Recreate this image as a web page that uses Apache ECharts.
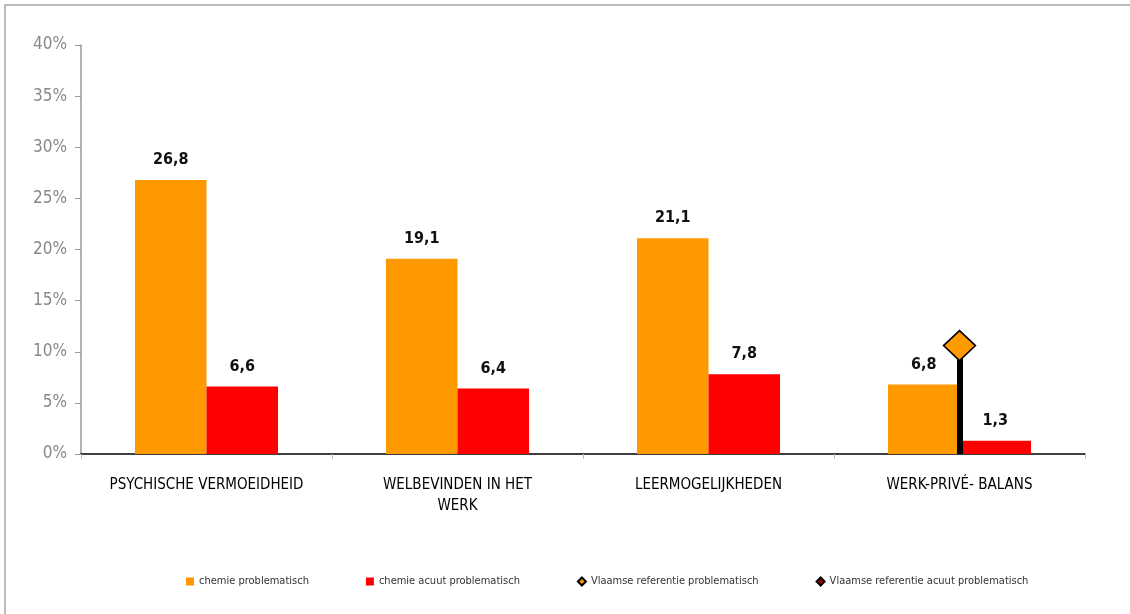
<!DOCTYPE html>
<html>
<head>
<meta charset="utf-8">
<script src="https://cdn.jsdelivr.net/npm/echarts@6/dist/echarts.min.js"></script>
<style>
  html, body { margin: 0; padding: 0; background: #fff; }
  #chart { width: 1130px; height: 614px; }
</style>
</head>
<body>
<div id="chart"></div>
<script>
var categories = ['PSYCHISCHE VERMOEIDHEID', 'WELBEVINDEN IN HET\nWERK', 'LEERMOGELIJKHEDEN', 'WERK-PRIVÉ- BALANS'];
var problematisch = [26.8, 19.1, 21.1, 6.8];
var acuutProblematisch = [6.6, 6.4, 7.8, 1.3];
var refProblematisch = [null, null, null, 10.6];
var refAcuut = [null, null, null, null];
var yTicks = [0, 5, 10, 15, 20, 25, 30, 35, 40];

var font = "'Liberation Sans Narrow', 'DejaVu Sans Condensed', 'Liberation Sans', sans-serif";

var chart = echarts.init(document.getElementById('chart'));

function fmt(p) {
  return p.value == null ? '' : p.value.toFixed(1).replace('.', ',');
}

var option = {
  backgroundColor: '#fff',
  animation: false,
  textStyle: { fontFamily: font },
  graphic: [{
    type: 'rect',
    shape: { x: 5, y: 5, width: 1140, height: 640 },
    style: { fill: 'none', stroke: '#a6a6a6', lineWidth: 1.5 },
    silent: true
  }],
  grid: { left: 81, right: 45, top: 45, bottom: 160 },
  legend: {
    bottom: 22,
    left: 181,
    itemGap: 57,
    itemWidth: 8,
    itemHeight: 8,
    textStyle: { fontSize: 11, color: '#333', fontFamily: font },
    data: [
      { name: 'chemie problematisch', icon: 'rect' },
      { name: 'chemie acuut problematisch', icon: 'rect' },
      { name: 'Vlaamse referentie problematisch', icon: 'diamond' },
      { name: 'Vlaamse referentie acuut problematisch', icon: 'diamond' }
    ]
  },
  xAxis: {
    type: 'category',
    data: categories,
    axisLine: { lineStyle: { color: '#000', width: 1.5 } },
    axisTick: { show: true, length: 5, lineStyle: { color: '#bbb' } },
    axisLabel: { interval: 0, color: '#000', fontSize: 15, margin: 21, lineHeight: 21, fontFamily: font }
  },
  yAxis: {
    type: 'value',
    min: 0,
    max: 40,
    interval: 5,
    splitLine: { show: false },
    axisLine: { show: true, lineStyle: { color: '#999', width: 1.5 } },
    axisTick: { show: true, length: 6, lineStyle: { color: '#999' } },
    axisLabel: {
      color: '#888', fontSize: 17, margin: 14, fontFamily: font,
      formatter: function (v) { return yTicks.indexOf(v) >= 0 ? v + '%' : ''; }
    }
  },
  series: [
    {
      name: 'chemie problematisch',
      type: 'bar',
      data: problematisch,
      barGap: '0%',
      barCategoryGap: '43%',
      itemStyle: { color: '#FF9900' },
      label: { show: true, position: 'top', distance: 12, color: '#111', fontSize: 16, fontWeight: 'bold', fontFamily: font, formatter: fmt }
    },
    {
      name: 'chemie acuut problematisch',
      type: 'bar',
      data: acuutProblematisch,
      itemStyle: { color: '#FF0000' },
      label: { show: true, position: 'top', distance: 12, color: '#111', fontSize: 16, fontWeight: 'bold', fontFamily: font, formatter: fmt }
    },
    {
      name: 'Vlaamse referentie problematisch',
      type: 'scatter',
      data: refProblematisch,
      symbol: 'diamond',
      symbolSize: [32, 30],
      z: 10,
      itemStyle: { color: '#FF9900', borderColor: '#000', borderWidth: 1.5, opacity: 1 },
      markLine: {
        silent: true,
        symbol: 'none',
        z: 3,
        label: { show: false },
        emphasis: { disabled: true },
        lineStyle: { color: '#000', width: 6, type: 'solid', opacity: 1 },
        data: [[{ coord: [3, 0] }, { coord: [3, 10] }]]
      }
    },
    {
      name: 'Vlaamse referentie acuut problematisch',
      type: 'scatter',
      data: refAcuut,
      symbol: 'diamond',
      symbolSize: 20,
      itemStyle: { color: '#A00000', borderColor: '#000', borderWidth: 1.5, opacity: 1 }
    }
  ]
};

chart.setOption(option);
</script>
</body>
</html>
